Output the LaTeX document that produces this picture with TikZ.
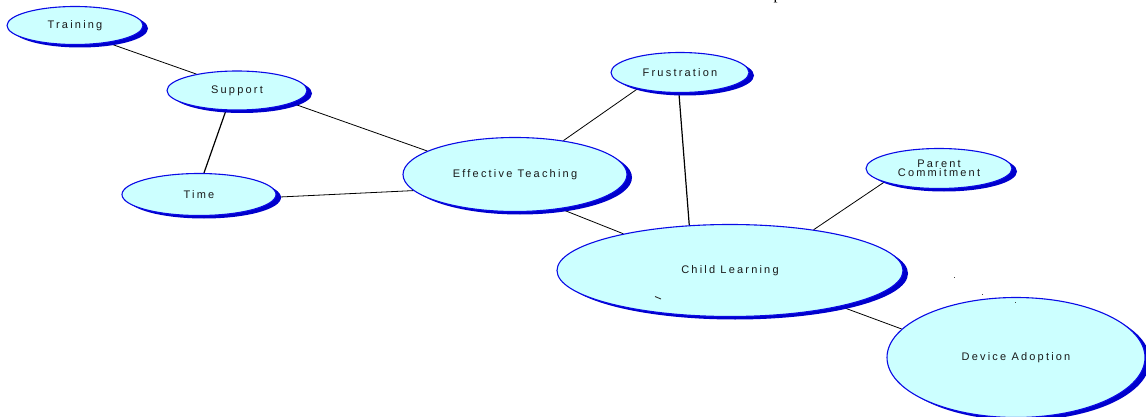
\documentclass[tikz,border=0pt]{standalone}
\usepackage{fontspec}
\newfontfamily\labelfont[LetterSpace=20]{Liberation Sans}
\newfontfamily\pagefont{Liberation Serif}
\usetikzlibrary{shapes.geometric,shadows,backgrounds}
\definecolor{bubblefill}{HTML}{CCFFFF}
\definecolor{bubbleedge}{HTML}{0A0AE6}
\definecolor{bubbleshade}{HTML}{0000CC}
\tikzset{
  bubble/.style={ellipse, draw=bubbleedge, line width=1.1pt, fill=bubblefill,
    inner sep=0pt, align=center, text=black!90,
    font=\labelfont\fontsize{11}{11.5}\selectfont,
    general shadow={shadow xshift=5pt, shadow yshift=-3pt, fill=bubbleshade}},
  link/.style={draw=black, line width=0.8pt},
  speck/.style={fill=black!75}
}
\begin{document}
\begin{tikzpicture}[x=1pt,y=-1pt]
\useasboundingbox (0,0) rectangle (1146,417);

% concept bubbles
\node[bubble, minimum width=136pt, minimum height=38pt] (tr) at (75,25.5) {Training};
\node[bubble, minimum width=140pt, minimum height=39pt] (su) at (237,90.5) {Support};
\node[bubble, minimum width=154pt, minimum height=42pt] (ti) at (199,194.5) {Time};
\node[bubble, minimum width=224pt, minimum height=74pt] (ef) at (515,174.5) {Effective Teaching};
\node[bubble, minimum width=138pt, minimum height=40pt] (fr) at (680,72.5) {Frustration};
\node[bubble, minimum width=146pt, minimum height=40pt] (pa) at (939,168.5) {Parent\\[-2pt]Commitment};
\node[bubble, minimum width=346pt, minimum height=92pt] (cl) at (730,270.5) {Child Learning};
\node[bubble, minimum width=258pt, minimum height=120pt] (de) at (1016,357.5) {Device Adoption};

% connectors, kept behind the bubbles and their shadows
\begin{scope}[on background layer]
\draw[link] (tr.-28) -- (su.158);
\draw[link] (su.-13) -- (ef.165);
\draw[link, line width=1.2pt] (su.241) -- (ti.77);
\draw[link] (ti.-2) -- (ef.189);
\draw[link] (ef.35) -- (fr.201);
\draw[link, line width=1.2pt] (fr.267) -- (cl.132);
\draw[link] (ef.-37) -- (cl.161);
\draw[link] (cl.26) -- (pa.194);
\draw[link] (cl.-18) -- (de.166);
\end{scope}

% stray specks
\draw[line width=0.9pt, black!80] (655,296.5) -- (661,299);
\fill[speck] (953.5,276.5) rectangle (955,278);
\fill[speck] (981.5,293.5) rectangle (983,295);
\fill[speck] (1014.5,301.5) rectangle (1016,303);

% tail of a page letter cut by the top edge
\node[anchor=base west, inner sep=0pt, font=\pagefont\fontsize{16}{16}\selectfont] (pg) at (773.5,-0.5) {p};
\end{tikzpicture}
\end{document}
